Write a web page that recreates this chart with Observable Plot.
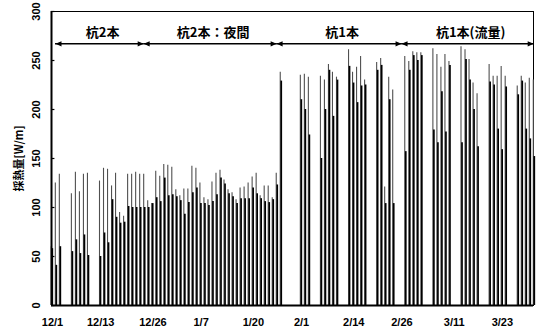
<!DOCTYPE html>
<html>
<head>
<meta charset="utf-8">
<script src="https://cdn.jsdelivr.net/npm/d3@7"></script>
<script src="https://cdn.jsdelivr.net/npm/@observablehq/plot@0.6"></script>
<style>
  html, body { margin: 0; padding: 0; background: #fff; }
  svg { font-family: "Liberation Sans", "Noto Sans CJK JP", sans-serif; }
</style>
</head>
<body>
<div id="chart"></div>
<script>
// ---- data ----
const startDay = "2004-12-01";
// daily peak (start-up) heat extraction, W/m, day 0 = 12/1 (0 = no operation)
const peak = [
  60,125,134,0,0,114,136,116,134,135,
  0,0,127,140,139,122,135,95,91,134,
  134,136,134,134,107,104,137,132,144,143,
  141,118,112,119,119,142,140,125,110,108,
  126,135,138,128,118,115,108,120,121,125,
  131,135,112,122,122,110,135,238,0,0,
  0,0,235,236,233,0,0,234,230,246,
  238,233,0,0,261,238,243,254,230,0,
  0,248,252,121,233,220,0,0,254,249,
  259,258,258,0,0,262,256,243,256,249,
  0,0,264,261,251,227,216,0,0,246,
  234,234,244,234,0,0,224,234,227,232,
  230
];
// daily steady-state heat extraction, W/m
const steady = [
  58,41,60,0,0,55,67,53,72,51,
  0,0,50,74,64,108,90,84,85,101,
  100,100,100,100,100,104,110,106,130,112,
  113,111,107,93,105,115,120,104,104,102,
  106,113,130,124,114,111,104,109,109,109,
  120,114,109,106,105,108,123,229,0,0,
  0,0,210,200,174,0,0,150,200,240,
  193,230,0,0,244,227,207,224,225,0,
  0,240,245,104,210,104,0,0,157,240,
  255,250,255,0,0,179,166,218,177,245,
  0,0,166,251,230,200,162,0,0,228,
  225,180,159,223,0,0,215,229,180,170,
  152
];
const periodNames = ["杭2本", "杭2本：夜間", "杭1本", "杭1本(流量)"];
const periodBounds = [0.75, 22.7, 55.8, 86.9, 119.8]; // days since 12/1
const xTickLabels = ["12/1","12/13","12/26","1/7","1/20","2/1","2/14","2/26","3/11","3/23"];
const yTicks = [0, 50, 100, 150, 200, 250, 300];
const yTitle = "採熱量[W/m]";

// ---- helpers ----
const DAY = 864e5;
const t0 = Date.parse(startDay + "T00:00:00Z");
const at = (d) => new Date(t0 + d * DAY);
const tickDate = (s) => {
  const [m, d] = s.split("/").map(Number);
  return new Date(Date.UTC(m === 12 ? 2004 : 2005, m - 1, d));
};
const days = peak.map((p, i) => ({i, p, s: steady[i]})).filter(d => d.p > 0);
const periods = periodNames.map((name, k) => ({name, a: periodBounds[k], b: periodBounds[k + 1]}));
const arrowY = 267;

const leftTri = {draw(ctx) { ctx.moveTo(0, 0); ctx.lineTo(6, -2.6); ctx.lineTo(6, 2.6); ctx.closePath(); }};
const rightTri = {draw(ctx) { ctx.moveTo(0, 0); ctx.lineTo(-6, -2.6); ctx.lineTo(-6, 2.6); ctx.closePath(); }};

const x0 = at(-0.25), x1 = at(119.75);

const chart = Plot.plot({
  width: 536,
  height: 329,
  marginLeft: 51,
  marginRight: 3,
  marginTop: 11,
  marginBottom: 24,
  x: {type: "utc", domain: [x0, x1], axis: null},
  y: {domain: [0, 300], axis: null},
  style: {fontFamily: "Liberation Sans, Noto Sans CJK JP, sans-serif", background: "#fff"},
  marks: [
    Plot.frame({stroke: "#000", strokeWidth: 1}),
    // daily operation lines
    Plot.ruleX(days, {x: d => at(d.i - 0.3), y1: 0, y2: "p", stroke: "#505050", strokeWidth: 1.1}),
    Plot.ruleX(days, {x: d => at(d.i - 0.05), y1: 0, y2: "s", stroke: "#000", strokeWidth: 1.7}),
    // axes lines
    Plot.ruleX([x0], {stroke: "#000", strokeWidth: 2}),
    Plot.ruleY([0], {stroke: "#000", strokeWidth: 2}),
    Plot.ruleY(yTicks, {x1: x0, x2: at(0.6), stroke: "#000", strokeWidth: 1.2}),
    // y tick labels (rotated)
    Plot.text(yTicks, {y: d => d, text: d => String(d), frameAnchor: "left", dx: -15, rotate: -90,
      textAnchor: "middle", lineAnchor: "middle", fontSize: 11, fontWeight: "bold", fill: "#000"}),
    // y title
    Plot.text([yTitle], {frameAnchor: "left", dx: -32, rotate: -90, text: d => d,
      textAnchor: "middle", lineAnchor: "middle", fontSize: 11, fontWeight: "bold",
      fontFamily: "Noto Sans CJK JP", fill: "#000"}),
    // x tick labels
    Plot.text(xTickLabels, {x: tickDate, text: d => d, frameAnchor: "bottom", dy: 17,
      textAnchor: "middle", lineAnchor: "middle", fontSize: 11, fontWeight: "bold", fill: "#000"}),
    // period arrows
    Plot.ruleY(periods, {x1: d => at(d.a), x2: d => at(d.b), y: arrowY, stroke: "#000", strokeWidth: 1.5}),
    Plot.dot(periods, {x: d => at(d.a), y: arrowY, symbol: leftTri, fill: "#000", stroke: "none"}),
    Plot.dot(periods, {x: d => at(d.b), y: arrowY, symbol: rightTri, fill: "#000", stroke: "none"}),
    Plot.text(periods, {x: d => at((d.a + d.b) / 2), y: 278, dx: 3, text: "name",
      fontSize: 13, fontWeight: "bold", fontFamily: "Noto Sans CJK JP", fill: "#000",
      textAnchor: "middle", lineAnchor: "middle"})
  ]
});
document.getElementById("chart").appendChild(chart);
</script>
</body>
</html>
